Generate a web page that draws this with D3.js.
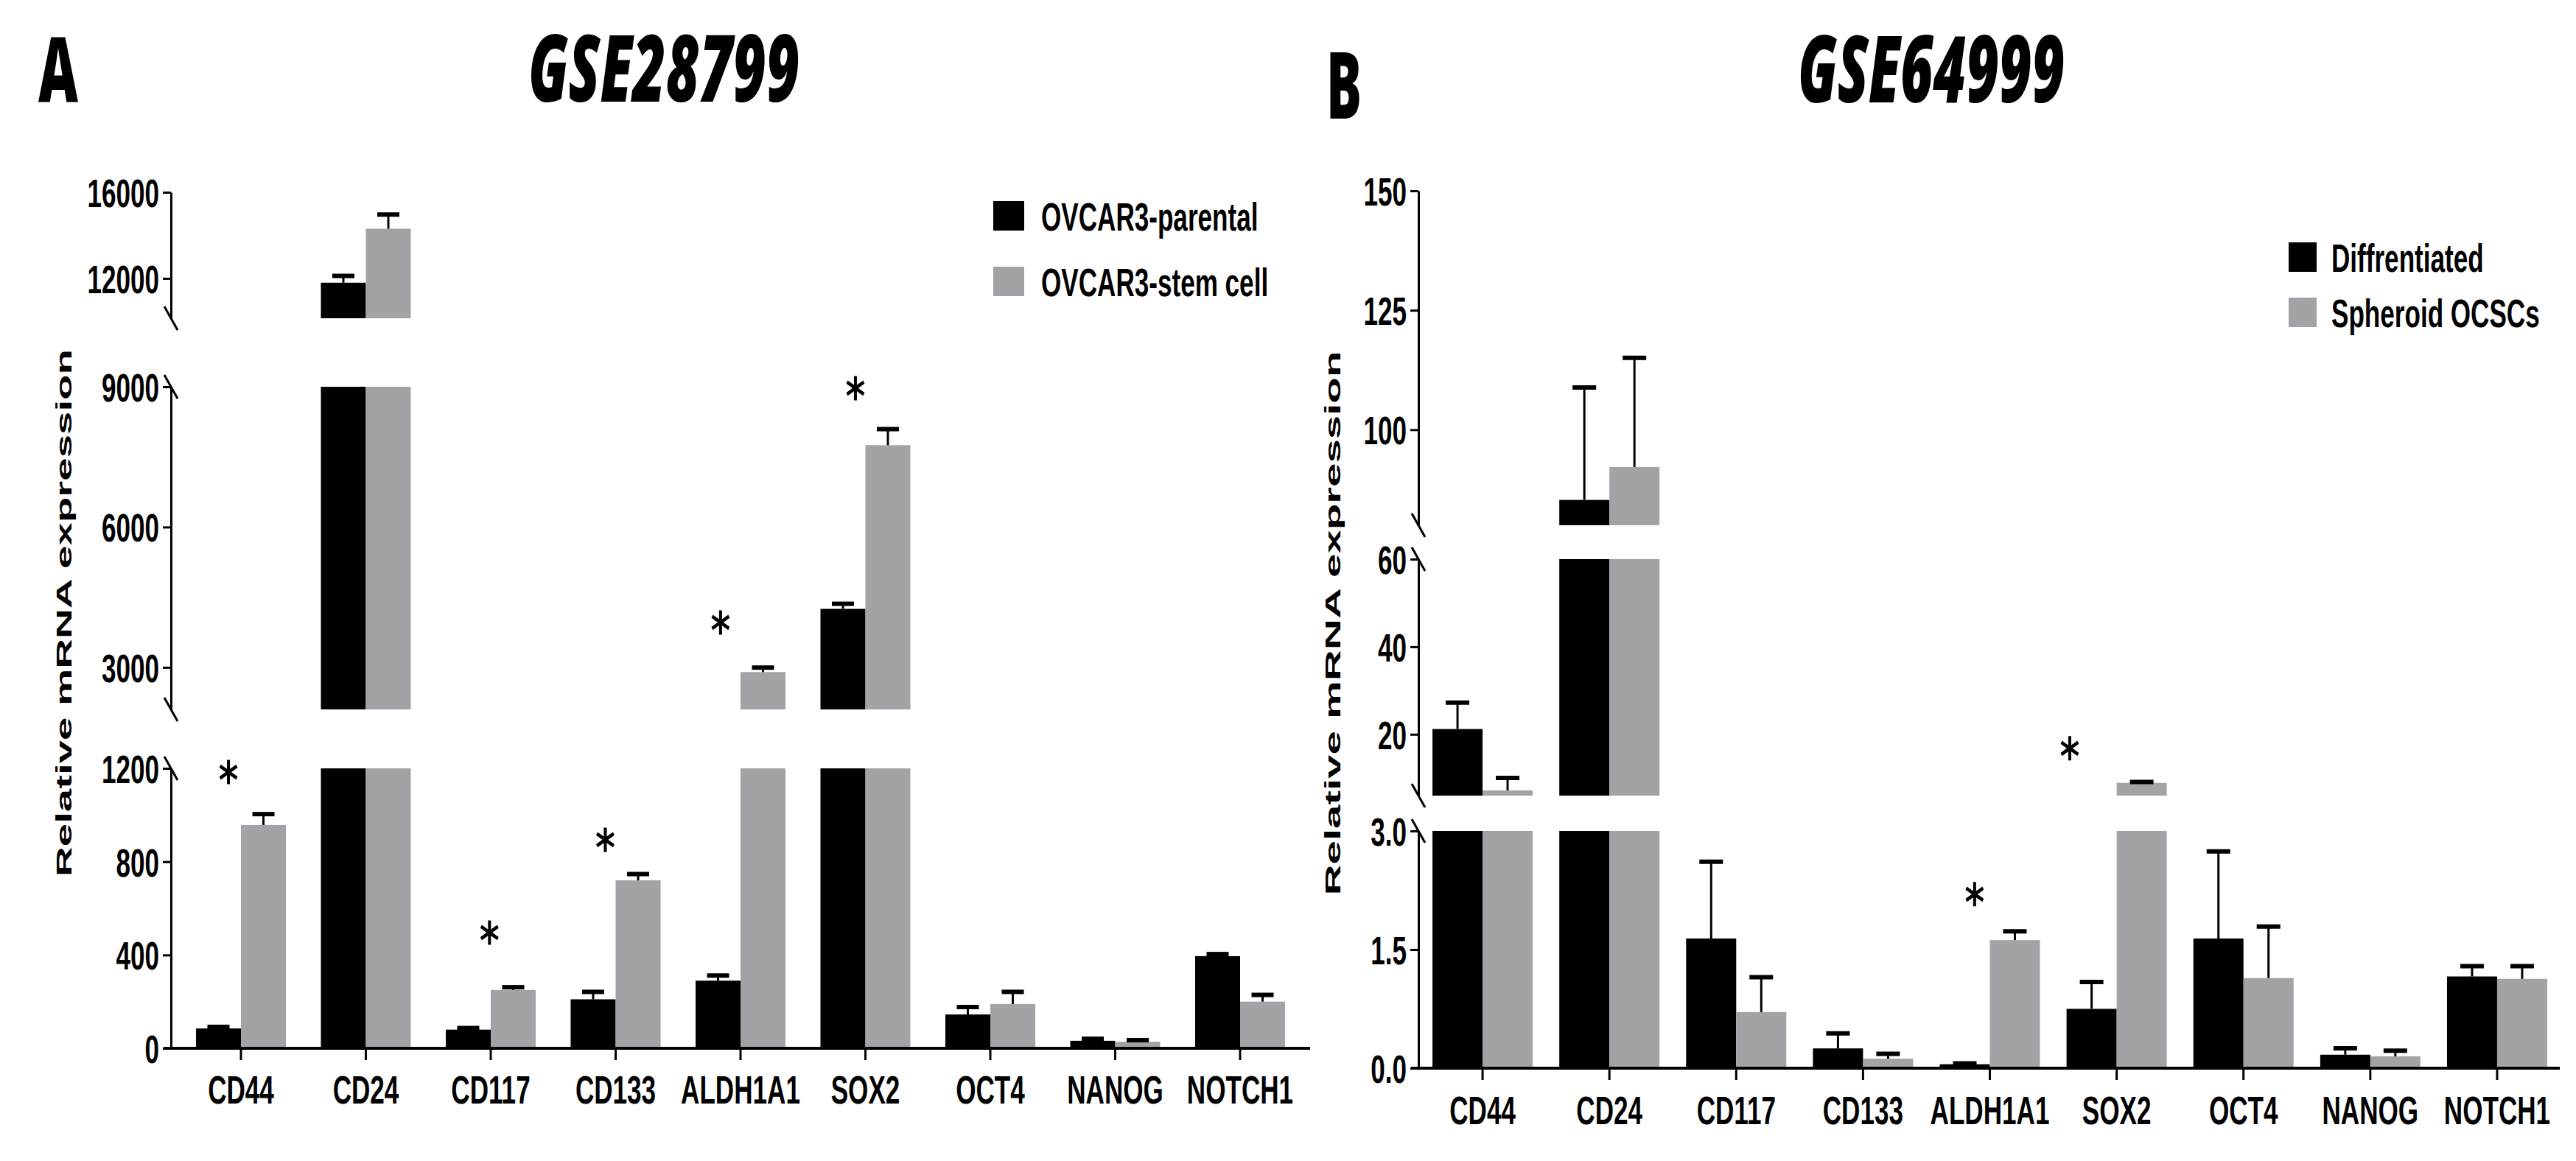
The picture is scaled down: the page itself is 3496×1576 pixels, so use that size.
<!DOCTYPE html>
<html><head><meta charset="utf-8">
<script src="https://cdn.jsdelivr.net/npm/d3@7"></script>
<style>html,body{margin:0;padding:0;background:#fff;} svg{display:block}</style>
</head><body>
<svg id="chart" width="3496" height="1576"></svg>
<script>
// ---------------- DATA ----------------
const categories = ["CD44","CD24","CD117","CD133","ALDH1A1","SOX2","OCT4","NANOG","NOTCH1"];

// Panel A : GSE28799
const aSeries = ["OVCAR3-parental","OVCAR3-stem cell"];
const aParental    = [85, 11800, 80, 210, 290, 4250, 145, 32, 395];
const aParentalErr = [10,   350, 10,  35,  25,  125,  35, 12,  12];
const aStem        = [957, 14310, 250, 720, 2900, 7750, 190, 28, 200];
const aStemErr     = [50,    690,  15,  30,  110,  360,  55, 10,  32];
const aTicksBottom = [0, 400, 800, 1200];
const aTicksMiddle = [3000, 6000, 9000];
const aTicksTop    = [12000, 16000];
const aStarCats    = ["CD44","CD117","CD133","ALDH1A1","SOX2"];
const aStarValues  = [1184, 496, 894, 3960, 8970];

// Panel B : GSE64999
const bSeries = ["Diffrentiated","Spheroid OCSCs"];
const bDiff    = [21.2, 85.3, 1.64, 0.25, 0.05, 0.75, 1.64, 0.17, 1.16];
const bDiffErr = [6.2,  23.7, 0.98, 0.20, 0.02, 0.35, 1.11, 0.09, 0.14];
const bSph     = [7.2,  92.2, 0.71, 0.12, 1.62, 8.9,  1.14, 0.15, 1.13];
const bSphErr  = [3.0,  23.0, 0.45, 0.07, 0.12, 0.4,  0.66, 0.08, 0.17];
const bTicksBottom = [0, 1.5, 3.0];
const bTicksMiddle = [20, 40, 60];
const bTicksTop    = [100, 125, 150];
const bStarCats    = ["ALDH1A1","SOX2"];
const bStarValues  = [2.2, 16.8];

// ---------------- STYLE / LAYOUT ----------------
const svg = d3.select('#chart');
const FONT = "'Liberation Sans', Arial, Helvetica, sans-serif";
const TFONT = "'Open Sans', 'Noto Sans', sans-serif";
const BLACK = '#000000', GREY = '#a3a2a7';
const SX = 0.65;
const LABEL_SIZE = 54;

function stretchedText(parent, str, x, y, o) {
  return parent.append('text')
    .attr('transform', `translate(${x},${y}) scale(${o.sx ?? SX},1)`)
    .attr('text-anchor', o.anchor || 'start')
    .attr('font-family', o.family || FONT)
    .attr('font-weight', o.weight || 'bold')
    .attr('font-style', o.style || 'normal')
    .attr('font-size', o.size)
    .attr('fill', '#000')
    .text(str);
}

const panels = [
  {
    axisX: 232, xRange: [242.25, 1767.75], xAxisEnd: 1778, baseY: 1423, barFrac: 0.72,
    segments: [
      {domain: [0, 1200],      range: [1423, 1043], ticks: aTicksBottom, fmt: d3.format('d')},
      {domain: [2100, 9000],   range: [963, 525],   ticks: aTicksMiddle, fmt: d3.format('d')},
      {domain: [10150, 16000], range: [432, 261],   ticks: aTicksTop,    fmt: d3.format('d')}
    ],
    series: [aParental, aStem], errs: [aParentalErr, aStemErr], names: aSeries,
    labelY: 1498, capW: 30,
    legend: {x: 1348, y: [273, 362], sw: 42, sh: 40, tx: 1413},
    title: {text: 'GSE28799', x: 717, y: 138, w: 368},
    letter: {text: 'A', x: 52, y: 138, w: 54, size: 122},
    ytitle: {x: 97, y: 832, len: 716},
    stars: {cats: aStarCats, vals: aStarValues, dx: [-0.10, -0.01, -0.083, -0.16, -0.08]}
  },
  {
    axisX: 1925, xRange: [1926, 3475], xAxisEnd: 3474, baseY: 1450, barFrac: 0.79,
    segments: [
      {domain: [0, 3],    range: [1450, 1128], ticks: bTicksBottom, fmt: d3.format('.1f')},
      {domain: [6, 60],   range: [1080, 759],  ticks: bTicksMiddle, fmt: d3.format('d')},
      {domain: [80, 150], range: [713, 259],   ticks: bTicksTop,    fmt: d3.format('d')}
    ],
    series: [bDiff, bSph], errs: [bDiffErr, bSphErr], names: bSeries,
    labelY: 1526, capW: 32,
    legend: {x: 3106, y: [329, 404], sw: 38, sh: 40, tx: 3164},
    title: {text: 'GSE64999', x: 2440, y: 139, w: 362},
    letter: {text: 'B', x: 1800, y: 161, w: 48, size: 126},
    ytitle: {x: 1819, y: 846, len: 739},
    stars: {cats: bStarCats, vals: bStarValues, dx: [-0.12, -0.37]}
  }
];

function drawPanel(P) {
  const g = svg.append('g');
  const x = d3.scaleBand().domain(categories).range(P.xRange).padding(0);
  const step = x.bandwidth();
  const pairW = step * P.barFrac;
  const inner = d3.scaleBand().domain([0, 1]).range([step / 2 - pairW / 2, step / 2 + pairW / 2]).padding(0);
  const segs = P.segments.map(s => Object.assign({}, s, {y: d3.scaleLinear().domain(s.domain).range(s.range)}));

  // bars
  P.series.forEach((vals, si) => {
    const pieces = [];
    categories.forEach((c, i) => {
      const v = vals[i];
      segs.forEach(s => {
        const lo = s.domain[0], hi = s.domain[1];
        if (v > lo) pieces.push({c, y0: s.y(lo), y1: s.y(Math.min(v, hi))});
      });
    });
    g.append('g').selectAll('rect').data(pieces).join('rect')
      .attr('x', d => x(d.c) + inner(si))
      .attr('width', inner.bandwidth())
      .attr('y', d => d.y1)
      .attr('height', d => Math.max(0, d.y0 - d.y1))
      .attr('fill', si ? GREY : BLACK);
  });

  // error bars (upper only)
  P.series.forEach((vals, si) => {
    const eb = categories.map((c, i) => {
      const v = vals[i], e = P.errs[si][i];
      const s = segs.find(s => v >= s.domain[0] && v <= s.domain[1]) || segs[0];
      return {cx: x(c) + inner(si) + inner.bandwidth() / 2, yv: s.y(v), ye: s.y(Math.min(v + e, s.domain[1]))};
    });
    const eg = g.append('g').attr('stroke', '#000');
    eg.selectAll('line.v').data(eb).join('line').attr('class', 'v')
      .attr('x1', d => d.cx).attr('x2', d => d.cx)
      .attr('y1', d => d.yv).attr('y2', d => d.ye).attr('stroke-width', 3);
    eg.selectAll('line.c').data(eb).join('line').attr('class', 'c')
      .attr('x1', d => d.cx - P.capW / 2).attr('x2', d => d.cx + P.capW / 2)
      .attr('y1', d => d.ye + 1).attr('y2', d => d.ye + 1).attr('stroke-width', 6);
  });

  // y axis segments
  segs.forEach(s => {
    const ax = d3.axisLeft(s.y).tickValues(s.ticks).tickSize(11).tickSizeOuter(0).tickFormat(s.fmt);
    const ag = g.append('g').attr('transform', `translate(${P.axisX},0)`).call(ax)
      .attr('font-size', LABEL_SIZE).attr('font-family', FONT).attr('font-weight', 'bold');
    ag.select('.domain').attr('stroke', '#000').attr('stroke-width', 3);
    ag.selectAll('.tick line').attr('stroke', '#000').attr('stroke-width', 3);
    ag.selectAll('.tick text').attr('x', 0).attr('dy', '0.36em').attr('fill', '#000')
      .attr('transform', `translate(-16,0) scale(${SX},1)`);
  });

  // axis break marks
  const breaks = [];
  segs.forEach((s, k) => {
    if (k > 0) breaks.push(s.range[0]);
    if (k < segs.length - 1) breaks.push(s.range[1]);
  });
  g.append('g').selectAll('line').data(breaks).join('line')
    .attr('x1', P.axisX - 9).attr('y1', d => d - 16)
    .attr('x2', P.axisX + 9).attr('y2', d => d + 16)
    .attr('stroke', '#000').attr('stroke-width', 3);

  // x axis
  g.append('line').attr('x1', P.axisX - 10).attr('x2', P.xAxisEnd)
    .attr('y1', P.baseY).attr('y2', P.baseY).attr('stroke', '#000').attr('stroke-width', 4);
  g.append('g').selectAll('line').data(categories).join('line')
    .attr('x1', d => x(d) + step / 2).attr('x2', d => x(d) + step / 2)
    .attr('y1', P.baseY).attr('y2', P.baseY + 16).attr('stroke', '#000').attr('stroke-width', 3);
  categories.forEach(c => stretchedText(g, c, x(c) + step / 2, P.labelY, {size: LABEL_SIZE, anchor: 'middle'}));

  // asterisks
  const starSym = d3.symbol(d3.symbolAsterisk, 770)();
  P.stars.cats.forEach((c, k) => {
    const v = P.stars.vals[k];
    const s = segs.find(s => v >= s.domain[0] && v <= s.domain[1]);
    const cx = x(c) + step / 2 + P.stars.dx[k] * step;
    g.append('path').attr('d', starSym)
      .attr('transform', `translate(${cx},${s.y(v)}) scale(0.8,1)`)
      .attr('fill', 'none').attr('stroke', '#000').attr('stroke-width', 5);
  });

  // legend
  P.names.forEach((n, si) => {
    g.append('rect').attr('x', P.legend.x).attr('y', P.legend.y[si])
      .attr('width', P.legend.sw).attr('height', P.legend.sh).attr('fill', si ? GREY : BLACK);
    stretchedText(g, n, P.legend.tx, P.legend.y[si] + P.legend.sh, {size: LABEL_SIZE});
  });

  // y axis title
  g.append('text')
    .attr('transform', `translate(${P.ytitle.x},${P.ytitle.y}) rotate(-90)`)
    .attr('text-anchor', 'middle').attr('font-family', FONT).attr('font-weight', 'bold')
    .attr('font-size', 30).attr('textLength', P.ytitle.len).attr('lengthAdjust', 'spacingAndGlyphs')
    .text('Relative mRNA expression');

  // title and panel letter
  g.append('text').attr('x', P.title.x).attr('y', P.title.y)
    .attr('font-family', TFONT).attr('font-weight', 800).attr('font-style', 'italic')
    .attr('font-size', 126).attr('textLength', P.title.w).attr('lengthAdjust', 'spacingAndGlyphs')
    .text(P.title.text);
  g.append('text').attr('x', P.letter.x).attr('y', P.letter.y)
    .attr('font-family', TFONT).attr('font-weight', 800)
    .attr('font-size', P.letter.size).attr('textLength', P.letter.w).attr('lengthAdjust', 'spacingAndGlyphs')
    .text(P.letter.text);
}

panels.forEach(drawPanel);
</script>
</body></html>
